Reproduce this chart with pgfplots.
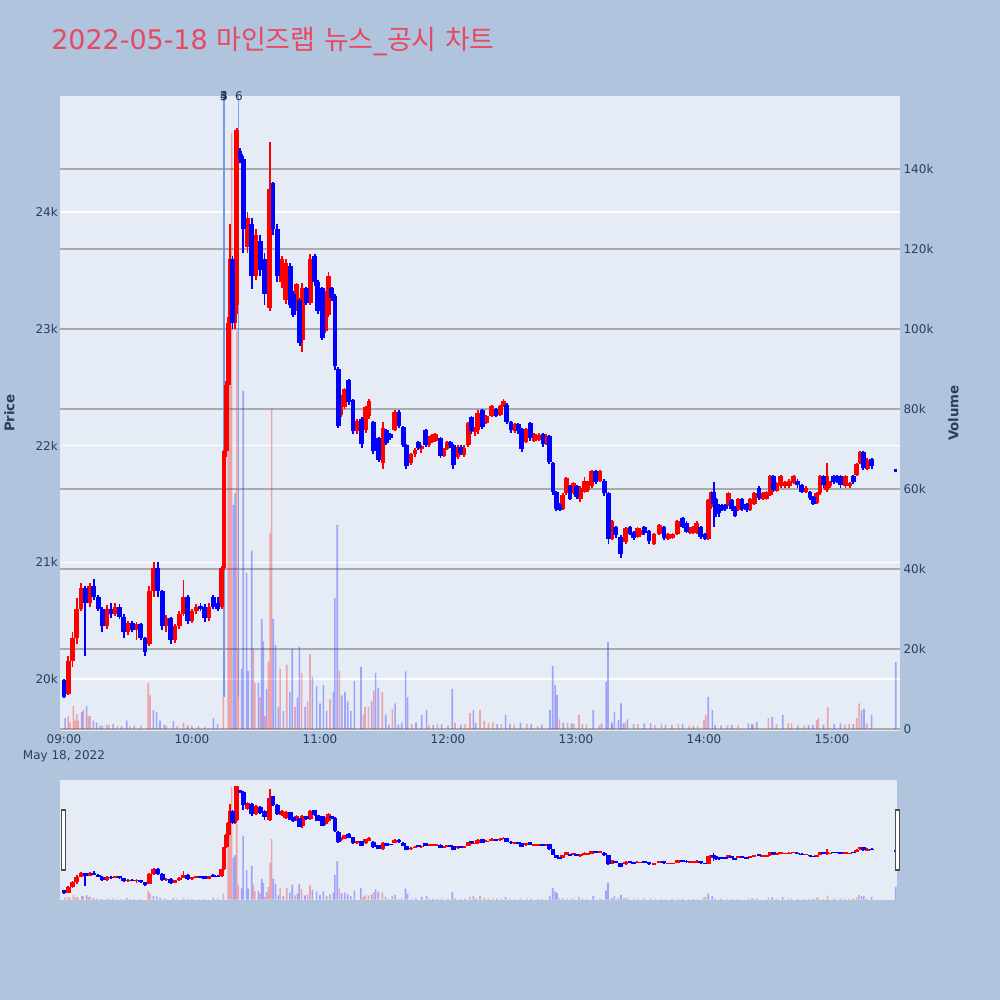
\documentclass[border=0pt]{standalone}
\usepackage{fontspec}
\setmainfont{DejaVu Sans}
\newfontfamily\kr{Noto Sans CJK KR}
\usepackage{pgfplots}
\pgfplotsset{compat=1.18}
\usepackage{pgfplotstable}

\definecolor{pagebg}{RGB}{176,196,222}
\definecolor{plotbg}{RGB}{229,236,246}
\definecolor{tickc}{RGB}{42,63,95}
\definecolor{gridg}{RGB}{170,170,170}
\definecolor{cup}{RGB}{255,0,0}
\definecolor{cdn}{RGB}{0,0,255}
\definecolor{annot}{RGB}{110,140,235}
\definecolor{titlec}{RGB}{232,72,96}

% minute after 09:00, open, high, low, close
\pgfplotstableread{
t o h l c
0 19990 20000 19840 19850
2 19870 20200 19860 20150
4 20150 20400 20100 20350
6 20350 20690 20300 20600
8 20600 20820 20580 20780
10 20780 20800 20200 20650
12 20650 20820 20620 20800
14 20800 20860 20680 20700
16 20700 20720 20580 20600
18 20600 20620 20400 20450
20 20450 20630 20430 20600
22 20600 20650 20520 20560
24 20560 20650 20540 20620
26 20620 20640 20510 20530
28 20530 20560 20350 20400
30 20400 20500 20380 20480
32 20480 20500 20400 20420
34 20420 20490 20330 20470
36 20470 20480 20330 20350
38 20350 20360 20200 20230
40 20300 20800 20280 20750
42 20750 21000 20700 20950
44 20950 21000 20700 20750
46 20750 20760 20420 20450
48 20450 20545 20400 20520
50 20520 20530 20300 20330
52 20330 20470 20310 20450
54 20450 20580 20430 20560
56 20560 20850 20540 20700
58 20700 20720 20470 20500
60 20500 20600 20480 20580
62 20580 20640 20560 20620
64 20620 20650 20580 20600
66 20620 20640 20490 20520
68 20520 20650 20500 20620
70 20700 20720 20600 20620
72 20650 20700 20580 20600
74 20620 20970 20600 20950
75 20950 21960 20930 21950
76 21950 22550 21900 22520
77 22520 23100 22480 23050
78 23050 23900 23000 23600
79 23600 23620 23000 23050
80 23050 23620 23000 23600
81 23200 24720 23130 24700
82.5 24520 24550 24420 24450
83.3 24480 24500 24400 24420
84 24450 24480 23650 23850
86 23700 24000 23650 23950
88 23900 23950 23340 23450
90 23450 23850 23420 23800
92 23750 23800 23450 23500
94 23600 23650 23200 23300
96.5 23180 24600 23150 24200
98 24250 24260 23800 23850
100 23850 23900 23400 23450
102 23400 23620 23350 23600
104 23250 23600 23210 23560
106 23540 23560 23180 23200
107.5 23300 23320 23100 23120
109 23180 23390 23150 23380
110.5 23250 23260 22850 22880
111.7 22900 23390 22800 23350
113.5 23345 23360 23200 23220
115.5 23220 23640 23200 23600
117.5 23620 23640 23370 23400
119 23400 23420 23130 23150
121 23345 23360 22900 22920
122.5 22980 23320 22960 23300
124 23120 23490 23100 23450
125.5 23345 23360 23240 23260
127 23280 23300 22650 22680
128.5 22655 22670 22150 22170
129.7 22260 22430 22240 22420
131.5 22330 22490 22310 22480
133.5 22560 22570 22350 22370
135.5 22390 22400 22100 22120
137.5 22120 22230 22100 22210
139.5 22230 22240 21980 22010
141.5 22130 22340 22110 22330
143 22250 22400 22230 22380
145 22200 22210 21930 21950
147.5 22060 22070 21860 21880
149.5 21850 22200 21800 22150
151 22130 22140 22000 22020
153 22100 22110 22050 22060
155 22130 22300 22120 22290
157 22290 22300 22150 22170
159 22160 22170 21990 22000
160.5 22000 22010 21800 21820
162.5 21850 21940 21830 21930
164.5 21930 21980 21900 21960
166 22030 22040 21960 21980
167.5 21980 22000 21940 21990
169.5 22130 22140 21990 22000
171 22000 22080 21990 22070
172.5 22030 22100 22020 22090
174 22040 22110 22030 22100
176.5 22060 22070 21890 21910
178 21910 21980 21900 21970
179.5 21970 22040 21960 22030
181 22030 22040 21980 22000
182.5 22000 22010 21800 21830
184.5 21900 22000 21880 21990
186 21990 22000 21920 21940
187.5 21920 22000 21900 21980
189.5 22000 22200 21990 22190
191 22240 22250 22100 22120
192.5 22120 22160 22080 22140
194 22130 22300 22100 22280
196 22300 22310 22140 22160
198 22190 22260 22180 22250
200.5 22250 22350 22240 22340
202.5 22310 22320 22240 22250
204.5 22260 22350 22250 22340
206 22340 22400 22330 22380
207.5 22350 22360 22180 22200
209.5 22200 22210 22110 22130
211.5 22120 22190 22110 22180
213 22180 22190 22100 22120
214.5 22140 22150 21940 21970
216.5 22030 22150 22020 22140
218.5 22190 22200 22040 22060
220.5 22040 22110 22030 22100
222.5 22050 22110 22040 22090
224.5 22100 22110 21990 22010
226 22010 22100 22000 22080
227.5 22080 22090 21840 21860
229.2 21850 21860 21580 21600
230.8 21600 21610 21440 21460
232.3 21500 21510 21440 21450
233.8 21460 21590 21450 21580
235.5 21590 21730 21580 21720
237.2 21650 21660 21530 21540
238.8 21590 21690 21580 21680
240.3 21650 21660 21540 21560
242 21540 21650 21520 21640
244 21600 21730 21590 21700
245.5 21620 21700 21600 21690
247.3 21650 21790 21640 21780
249.2 21780 21790 21670 21690
251.2 21700 21790 21690 21780
253.2 21700 21710 21570 21590
255.2 21590 21600 21160 21200
256.8 21200 21360 21190 21350
258.6 21300 21310 21210 21230
261 21220 21230 21040 21070
263.3 21170 21300 21160 21290
265.3 21300 21310 21230 21240
267 21260 21270 21190 21210
268.8 21220 21300 21210 21290
270.2 21230 21290 21220 21280
272 21300 21310 21230 21250
274.2 21270 21280 21160 21180
276.6 21160 21250 21150 21240
279 21240 21330 21230 21320
281.2 21300 21310 21190 21210
283.2 21200 21250 21190 21240
285.2 21210 21250 21200 21240
287.5 21240 21360 21230 21350
290 21380 21390 21290 21300
291.8 21340 21350 21250 21260
293.5 21250 21300 21240 21290
295 21250 21310 21240 21300
296.6 21250 21350 21240 21340
298.5 21300 21310 21200 21220
300.5 21240 21250 21190 21200
302 21200 21540 21190 21530
303.5 21470 21610 21460 21600
304.5 21600 21690 21300 21500
305.5 21540 21550 21390 21410
307 21480 21500 21390 21420
308.5 21490 21500 21440 21450
310 21490 21500 21440 21460
311.5 21490 21600 21480 21590
313 21530 21540 21440 21460
314.5 21470 21480 21390 21400
316 21450 21550 21440 21540
317.8 21540 21550 21440 21460
320 21500 21510 21430 21450
321.6 21450 21550 21440 21540
323.5 21500 21600 21490 21590
325.8 21640 21650 21530 21550
327.6 21540 21600 21530 21590
329.3 21540 21610 21530 21600
331 21580 21750 21570 21740
332.5 21740 21750 21600 21620
334 21610 21690 21600 21680
336 21650 21750 21640 21740
338 21650 21700 21640 21690
340 21650 21710 21640 21700
342 21680 21750 21670 21740
343.8 21700 21710 21640 21660
345.8 21660 21670 21590 21600
347.7 21600 21650 21590 21640
349.7 21600 21610 21530 21550
351.2 21560 21570 21490 21500
352.8 21510 21600 21500 21590
354.4 21590 21750 21580 21740
356 21740 21750 21640 21660
357.5 21620 21850 21600 21740
359 21650 21700 21640 21690
360.8 21740 21750 21670 21690
362.5 21740 21750 21680 21700
364 21740 21750 21640 21660
366.3 21650 21750 21640 21740
368.4 21650 21690 21640 21680
370 21740 21750 21670 21690
371.6 21750 21850 21740 21840
373.2 21850 21950 21840 21940
374.7 21940 21950 21790 21810
376.6 21800 21890 21790 21880
378.6 21880 21890 21800 21820
}\candles

% volume of rising minutes
\pgfplotstableread{
t v
2 3200
2.8 1600
4.4 5800
5.2 2100
6 3700
6.7 2100
9 4700
11.4 3200
12.2 3200
18 900
21 1100
25 800
31 700
36 900
39.5 11500
40.3 8400
48 900
53 700
56 1500
60 800
66 600
74.7 8000
77 85000
77.8 126000
78.6 149000
81 99600
81.7 20000
88.8 20000
89.5 11500
91.9 8000
94.2 3200
95.8 16800
96.6 49000
97.3 80000
101.3 15000
104.4 16000
108.3 5500
111.4 14000
114.2 6900
115.3 18700
124.7 7400
129.1 14600
140.3 3600
141.1 5500
142.7 5500
145.2 9500
149.2 9300
153.9 5000
163 1200
171 1000
175 1300
180 900
183.3 1600
188 1200
190.3 4000
195 4700
197 2000
199 1500
201 1800
205 1200
211 1000
217 1300
222 800
232.2 2400
236 1500
239 1200
241.4 3500
245 1300
251 1000
257 1200
263 1500
269 1300
277 1000
280 1400
285 1000
288 1200
293 800
297 700
300 2200
300.8 3500
311 900
316 1000
323 1100
330.2 2700
334 1200
339.5 1400
341.1 1400
347 900
352.8 2200
353.6 2700
358 5400
366 1100
368 1200
371.6 2700
372.7 6400
376.3 1400
}\volup

% volume of falling minutes
\pgfplotstableread{
t v
0.5 2700
8.3 4200
10.6 5800
13.8 2100
15.3 1600
17 800
20 1000
23 1300
27 700
29.4 2100
33 900
41.9 4800
43.4 4200
45 2100
47 1000
51.3 2000
58 900
63 700
70 2700
72 1200
79.4 56000
80.2 59000
83.3 15000
84 84500
85.6 39000
86.4 14500
88 44600
91.1 11500
92.7 27500
93.4 21900
95 10000
98.1 27500
99.2 21000
100.5 5500
102.8 4500
105.9 9300
107 20000
109.4 7900
110.3 20600
113 5500
116.4 13000
118.4 10700
120 6400
121.6 11000
123.1 4500
126.3 9300
127 32800
128.1 51000
130.2 8400
131.7 9300
133 6900
134.5 4500
136.1 12000
139.2 15500
144.2 6900
146.1 14000
147.3 10300
150.8 3600
152.3 1100
155.2 6400
156.7 1100
158.3 1600
160.1 14400
161.1 7900
165 1600
167.7 3500
170 4800
173 1000
177 1200
182 10000
186 1100
191.9 4800
193 1500
203 1200
207 3500
209 1300
214 1500
219 1200
224 1100
227.8 4700
229.1 15700
230.2 11000
231.1 8500
234 1500
238 1400
243 1200
248.1 4700
252 1400
254.1 11800
255 21700
256.7 1800
258 4300
259.9 2200
261.1 6400
262.2 1400
264.1 2400
267 1200
272 1400
275 1500
282 1100
290 1300
295 700
302 8000
303.9 4700
305.2 1000
308 900
313 1000
320.8 1400
322.4 1200
324.7 1800
332 3000
336.9 3500
344 900
349 1000
351 1000
356 1100
361 1200
364 1400
370 1300
373.9 4700
375 5000
378.6 3500
389.9 16700
}\voldn

\pgfplotsset{
  base/.style={scale only axis, anchor=south west,
    xmin=-1.875, xmax=391.875,
    scaled y ticks=false, scaled x ticks=false,
    axis line style={draw=none}, tick style={draw=none},
    major tick length=0pt,
    ticklabel style={font=\fontsize{9}{12}\selectfont, text=tickc}},
  nomark/.style={only marks, mark=*, mark size=0pt,
    mark options={draw=none, fill=none}, forget plot},
  wick/.style={nomark,
    error bars/.cd, y dir=both, y explicit, error mark=none,
    error bar style={line width=1.4pt, color=#1}},
  body/.style={nomark,
    error bars/.cd, y dir=both, y explicit, error mark=none,
    error bar style={line width=3.6pt, color=#1}},
  isup/.style={restrict expr to domain={\thisrow{c}-\thisrow{o}}{0:1000000}},
  isdn/.style={restrict expr to domain={\thisrow{c}-\thisrow{o}}{-1000000:-0.5}},
  volbar/.style={ybar, bar width=1.2pt, bar shift=0pt, draw=none,
    fill=#1, fill opacity=0.3, forget plot},
}

\newcommand{\drawvolume}{%
  \addplot[volbar=cup] table[x=t, y=v] {\volup};
  \addplot[volbar=cdn] table[x=t, y=v] {\voldn};
}
\newcommand{\drawcandles}{%
  \addplot[isup, wick=cup] table[x=t, y expr={(\thisrow{h}+\thisrow{l})/2},
    y error expr={(\thisrow{h}-\thisrow{l})/2}] {\candles};
  \addplot[isdn, wick=cdn] table[x=t, y expr={(\thisrow{h}+\thisrow{l})/2},
    y error expr={(\thisrow{h}-\thisrow{l})/2}] {\candles};
  \addplot[isup, body=cup] table[x=t, y expr={(\thisrow{o}+\thisrow{c})/2},
    y error expr={max(abs(\thisrow{c}-\thisrow{o})/2,12)}] {\candles};
  \addplot[isdn, body=cdn] table[x=t, y expr={(\thisrow{o}+\thisrow{c})/2},
    y error expr={max(abs(\thisrow{c}-\thisrow{o})/2,12)}] {\candles};
  % closing auction print
  \addplot[only marks, mark=square*, mark size=0.6pt, cdn, forget plot]
    coordinates {(389.6,21790)};
}

\begin{document}
\begin{tikzpicture}
\fill[pagebg] (0,0) rectangle (750pt,750pt);
\useasboundingbox (0,0) rectangle (750pt,750pt);

% main panel: background, price grid and ticks
\begin{axis}[base, at={(45pt,201.75pt)}, width=630pt, height=476.25pt,
  ymin=19554.6, ymax=24993.4,
  axis background/.style={fill=plotbg},
  ytick={20000,21000,22000,23000,24000},
  yticklabels={20k,21k,22k,23k,24k},
  yticklabel style={inner sep=1.5pt},
  ymajorgrids, grid style={white, line width=0.9pt},
  xtick={0,60,120,180,240,300,360},
  xticklabels={{09:00\\May 18, 2022},10:00,11:00,12:00,13:00,14:00,15:00},
  xticklabel style={align=center, inner sep=2.5pt}]
\end{axis}

% main panel: volume on the right axis
\begin{axis}[base, at={(45pt,201.75pt)}, width=630pt, height=476.25pt,
  ymin=-500, ymax=158250, xtick=\empty,
  yticklabel pos=right,
  ytick={0,20000,40000,60000,80000,100000,120000,140000},
  yticklabels={0,20k,40k,60k,80k,100k,120k,140k},
  yticklabel style={inner sep=2.5pt},
  ymajorgrids, grid style={gridg, line width=1pt}]
\drawvolume
\end{axis}

% main panel: candles and news marks
\begin{axis}[base, at={(45pt,201.75pt)}, width=630pt, height=476.25pt,
  ymin=19554.6, ymax=24993.4, xtick=\empty, ytick=\empty, clip=false]
\draw[annot, line width=1pt, opacity=0.9] (axis cs:75,19846) -- (axis cs:75,24993.4);
\draw[annot, line width=0.8pt, opacity=0.8] (axis cs:82,19846) -- (axis cs:82,24993.4);
\drawcandles
\node[font=\fontsize{9}{10}\selectfont, text=tickc!80!black, inner sep=0pt] at (axis cs:75,24993.4) {3};
\node[font=\fontsize{9}{10}\selectfont, text=tickc!80!black, inner sep=0pt] at (axis cs:75,24993.4) {4};
\node[font=\fontsize{9}{10}\selectfont, text=tickc!80!black, inner sep=0pt] at (axis cs:75,24993.4) {5};
\node[font=\fontsize{9}{10}\selectfont, text=tickc!80!black, inner sep=0pt] at (axis cs:82,24993.4) {6};
\end{axis}

% range slider
\begin{axis}[base, at={(45pt,75pt)}, width=627.75pt, height=90pt,
  xmax=390.5, ymin=-500, ymax=158250, xtick=\empty, ytick=\empty,
  axis background/.style={fill=plotbg}]
\drawvolume
\end{axis}
\begin{axis}[base, at={(45pt,75pt)}, width=627.75pt, height=90pt,
  xmax=390.5, ymin=19554.6, ymax=24993.4, xtick=\empty, ytick=\empty]
\drawcandles
\end{axis}
\filldraw[fill=white, draw=black!70, line width=0.8pt] (46.3pt,97.5pt) rectangle (49.3pt,142.5pt);
\filldraw[fill=white, draw=black!70, line width=0.8pt] (671.3pt,97.5pt) rectangle (674.3pt,142.5pt);

% titles
\node[anchor=base west, inner sep=0pt, text=titlec, font=\fontsize{20.2}{24}\selectfont]
  at (38.25pt,712.5pt) {2022-05-18 {\kr 마인즈랩} {\kr 뉴스}\_{\kr 공시} {\kr 차트}};
\node[rotate=90, text=tickc, font=\bfseries\fontsize{10}{12}\selectfont] at (7pt,440.25pt) {Price};
\node[rotate=90, text=tickc, font=\bfseries\fontsize{10}{12}\selectfont] at (715pt,440.25pt) {Volume};
\end{tikzpicture}
\end{document}
